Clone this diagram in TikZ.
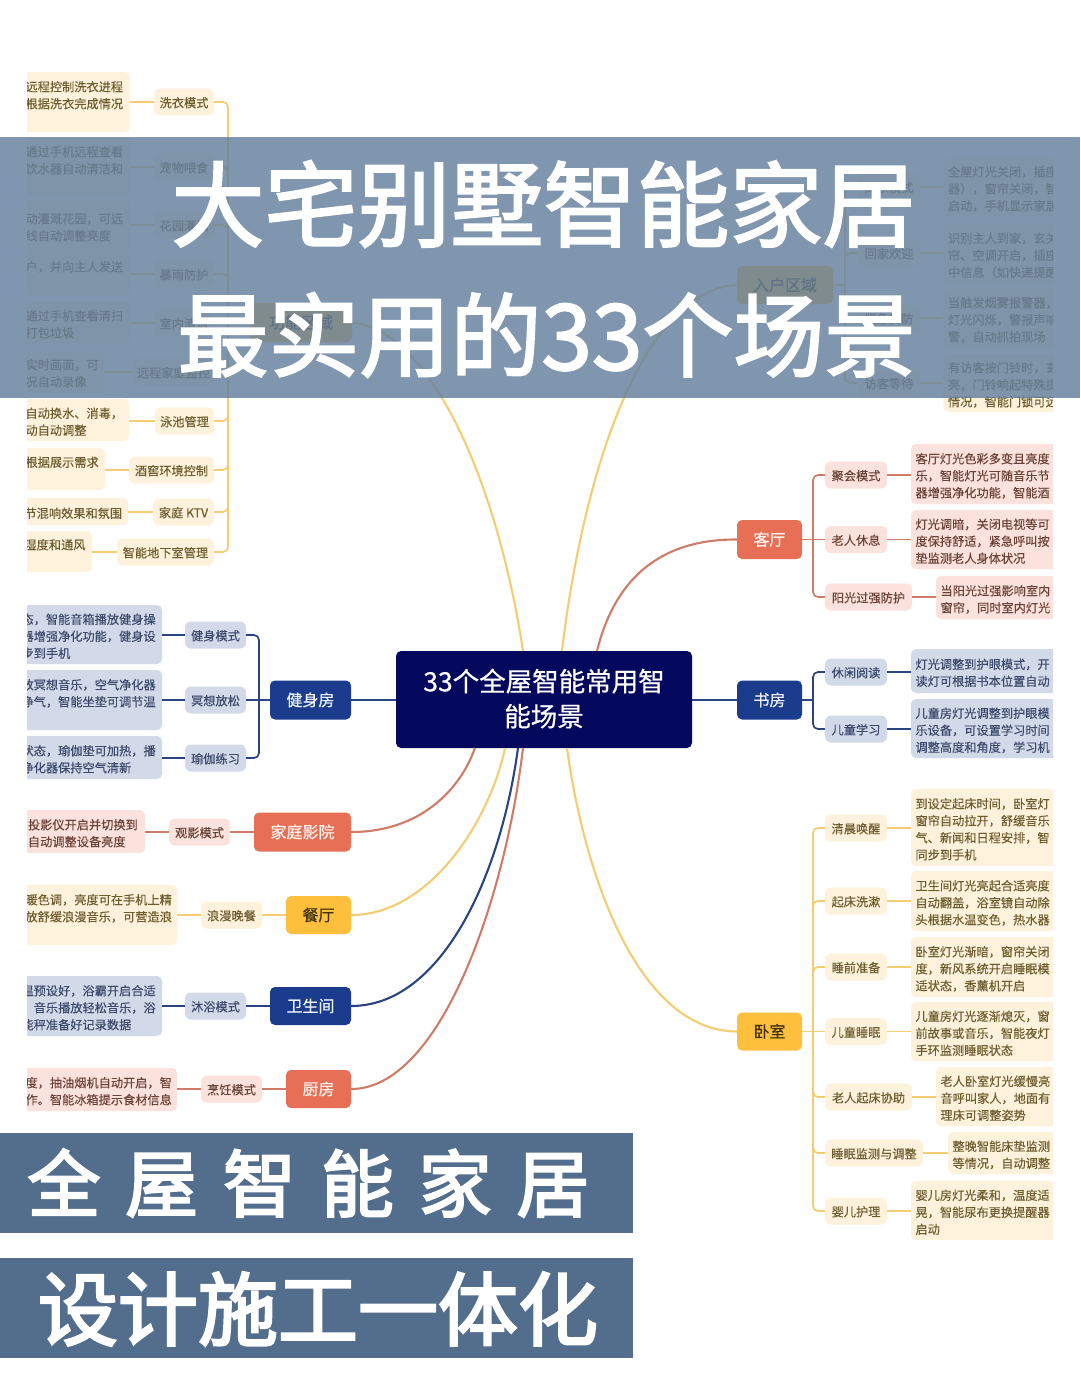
\documentclass[tikz,border=0pt]{standalone}
\usepackage{fontspec}
\setmainfont{Noto Sans CJK SC}[FakeBold=0.25]
\newfontfamily\mainnodefont{Noto Sans CJK SC}[FakeBold=0.6]
\newfontfamily\titlefont{Noto Sans CJK SC}[FakeBold=2.2]
\newfontfamily\bannerfont{Noto Sans CJK SC}[FakeBold=3]
\definecolor{yelfill}{HTML}{FEF2DC}\definecolor{yeltext}{HTML}{6E5C2E}\definecolor{yelline}{HTML}{F4CD72}\definecolor{yelmain}{HTML}{FEC03C}\definecolor{yelmt}{HTML}{40320F}
\definecolor{redfill}{HTML}{FBE2DC}\definecolor{redtext}{HTML}{6B4238}\definecolor{redline}{HTML}{CE7C68}\definecolor{redmain}{HTML}{E76F55}\definecolor{redmt}{HTML}{FFF3EE}
\definecolor{blufill}{HTML}{D2D9E9}\definecolor{blutext}{HTML}{3D4A6B}\definecolor{bluline}{HTML}{2A4480}\definecolor{blumain}{HTML}{1B3C8C}\definecolor{blumt}{HTML}{EEF2FA}
\definecolor{centerbg}{HTML}{05095E}\definecolor{bandcol}{RGB}{102,129,158}\definecolor{bannerbg}{HTML}{536D8D}
\tikzset{
 leaf/.style={fill=#1fill,text=#1text,rounded corners=5pt,inner xsep=4.5pt,inner ysep=0pt,align=left,
   font=\fontsize{12.2}{17}\selectfont,execute at begin node=\rule{0pt}{15pt},execute at end node={\rule[-2.2pt]{0pt}{2.2pt}}},
 lab/.style={fill=#1fill,text=#1text,rounded corners=6pt,inner sep=0pt,align=center,
   font=\fontsize{12.2}{17}\selectfont,execute at begin node={\rule[-3.2pt]{0pt}{17.2pt}}},
 mainbox/.style={fill=#1main,text=#1mt,rounded corners=5pt,inner sep=0pt,align=center,
   font=\mainnodefont\fontsize{16}{20}\selectfont,execute at begin node={\rule[-4pt]{0pt}{20pt}}},
 conn/.style={draw=#1line,line width=1.7pt},
 trunk/.style={draw=#1line,line width=1.7pt,rounded corners=5pt},
 curve/.style={draw=#1line,line width=2.1pt},
 centerbox/.style={fill=centerbg,text=white,rounded corners=5pt,minimum width=296pt,minimum height=97pt,inner sep=0pt,align=center,
  font=\mainnodefont\fontsize{26.5}{35}\selectfont,execute at begin node={\rule{0pt}{28pt}},execute at end node={\rule[-4pt]{0pt}{4pt}}},
}
% name fam left right top bottom text
\newcommand{\lfbox}[7]{%
  \pgfmathsetmacro\qw{#4-(#3)}\pgfmathsetmacro\qh{#6-(#5)}%
  \pgfmathsetmacro\qx{(#3+#4)/2}\pgfmathsetmacro\qy{(#5+#6)/2}\pgfmathsetmacro\qt{\qw-9}%
  \node[leaf=#2,minimum width=\qw pt,minimum height=\qh pt,text width=\qt pt] (#1l) at (\qx,\qy) {#7};}
% name fam left right y text
\newcommand{\lbbox}[6]{%
  \pgfmathsetmacro\qw{#4-(#3)}\pgfmathsetmacro\qx{(#3+#4)/2}%
  \node[lab=#2,minimum width=\qw pt,minimum height=27pt] (#1) at (\qx,#5) {#6};}
% name fam left right top bottom text
\newcommand{\mnbox}[7]{%
  \pgfmathsetmacro\qw{#4-(#3)}\pgfmathsetmacro\qh{#6-(#5)}%
  \pgfmathsetmacro\qx{(#3+#4)/2}\pgfmathsetmacro\qy{(#5+#6)/2}%
  \node[mainbox=#2,minimum width=\qw pt,minimum height=\qh pt] (#1) at (\qx,\qy) {#7};}
\newcommand{\lk}[2]{\draw[conn=#2] (#1.west) -- (#1.west -| #1l.east);}
\newcommand{\rk}[2]{\draw[conn=#2] (#1.east) -- (#1.east -| #1l.west);}
\begin{document}
\begin{tikzpicture}[x=1pt,y=-1pt]
\useasboundingbox (0,0) rectangle (1080,1391);
\fill[white] (0,0) rectangle (1080,1391);
\begin{scope}
\clip (27,0) rectangle (1053,1391);
% ---------- left yellow group
\lfbox{a1}{yel}{21}{130}{72}{132}{远程控制洗衣进程\\根据洗衣完成情况\\\mbox{}}
\lbbox{a1}{yel}{154}{214}{102}{洗衣模式}
\lfbox{a2}{yel}{21}{130}{138}{196}{通过手机远程查看\\饮水器自动清洁和\\\mbox{}}
\lbbox{a2}{yel}{154}{214}{167}{宠物喂食}
\lfbox{a3}{yel}{21}{130}{200}{251}{动灌溉花园，可远\\线自动调整亮度}
\lbbox{a3}{yel}{154}{214}{225}{花园灌溉}
\lfbox{a4}{yel}{21}{130}{252}{295}{户，并向主人发送\\\mbox{}}
\lbbox{a4}{yel}{154}{214}{274}{暴雨防护}
\lfbox{a5}{yel}{21}{130}{302}{343}{通过手机查看清扫\\打包垃圾}
\lbbox{a5}{yel}{154}{214}{323}{室内清洁}
\lfbox{a6}{yel}{21}{104}{351}{392}{实时画面，可\\况自动录像}
\lbbox{a6}{yel}{133}{214}{372}{远程家庭监控}
\lfbox{a7}{yel}{21}{129}{399}{441}{自动换水、消毒，\\动自动调整}
\lbbox{a7}{yel}{155}{214}{421}{泳池管理}
\lfbox{a8}{yel}{21}{105}{448}{490}{根据展示需求\\\mbox{}}
\lbbox{a8}{yel}{129}{214}{470}{酒窖环境控制}
\lfbox{a9}{yel}{20}{128}{498}{525}{节混响效果和氛围}
\lbbox{a9}{yel}{153}{214}{512}{家庭 KTV}
\lfbox{a10}{yel}{20}{92}{531}{572}{湿度和通风\\\mbox{}}
\lbbox{a10}{yel}{117}{214}{552}{智能地下室管理}
\mnbox{amain}{yel}{250}{352}{303}{342}{功能区域}
\coordinate (at) at (228,322.5);
\foreach \i in {1,...,10}{\lk{a\i}{yel}\draw[trunk=yel] (a\i.east) -| (at);}
\draw[conn=yel] (amain.west) -- (at);
% ---------- gym
\lfbox{b1}{blu}{17}{162}{605}{664}{态，智能音箱播放健身操\\器增强净化功能，健身设\\步到手机}
\lbbox{b1}{blu}{185}{246}{635}{健身模式}
\lfbox{b2}{blu}{17}{162}{670}{730}{放冥想音乐，空气净化器\\净气，智能坐垫可调节温\\\mbox{}}
\lbbox{b2}{blu}{185}{246}{700}{冥想放松}
\lfbox{b3}{blu}{17}{162}{736}{779}{状态，瑜伽垫可加热，播\\净化器保持空气清新}
\lbbox{b3}{blu}{185}{246}{758}{瑜伽练习}
\mnbox{bmain}{blu}{270}{351}{680.5}{719.5}{健身房}
\coordinate (bt) at (259,700);
\foreach \i in {1,2,3}{\lk{b\i}{blu}}
\draw[trunk=blu] (b1.east) -| (bt);
\draw[trunk=blu] (b3.east) -| (bt);
\draw[conn=blu] (bmain.west) -- (b2.east);
% ---------- cinema
\lfbox{c1}{red}{23.5}{145}{810}{853}{投影仪开启并切换到\\自动调整设备亮度}
\lbbox{c1}{red}{169}{230}{832}{观影模式}
\mnbox{cmain}{red}{254}{351}{812.5}{851.5}{家庭影院}
\lk{c1}{red}\draw[conn=red] (cmain.west) -- (c1.east);
% ---------- dining
\lfbox{d1}{yel}{21}{177}{885}{945}{暖色调，亮度可在手机上精\\放舒缓浪漫音乐，可营造浪\\\mbox{}}
\lbbox{d1}{yel}{201}{262}{915}{浪漫晚餐}
\mnbox{dmain}{yel}{286}{351}{896}{934}{餐厅}
\lk{d1}{yel}\draw[conn=yel] (dmain.west) -- (d1.east);
% ---------- bathroom
\lfbox{e1}{blu}{17}{162}{976}{1036}{温预设好，浴霸开启合适\\，音乐播放轻松音乐，浴\\能秤准备好记录数据}
\lbbox{e1}{blu}{185}{246}{1006}{沐浴模式}
\mnbox{emain}{blu}{270}{351}{987}{1025}{卫生间}
\lk{e1}{blu}\draw[conn=blu] (emain.west) -- (e1.east);
% ---------- kitchen
\lfbox{f1}{red}{21}{177}{1068}{1111}{度，抽油烟机自动开启，智\\作。智能冰箱提示食材信息}
\lbbox{f1}{red}{201}{262}{1089}{烹饪模式}
\mnbox{fmain}{red}{286}{351}{1070}{1108}{厨房}
\lk{f1}{red}\draw[conn=red] (fmain.west) -- (f1.east);
% ---------- entrance
\lfbox{g1}{yel}{943.5}{1060}{158}{216}{全屋灯光关闭，插座\\器），窗帘关闭，智\\启动，手机显示家居}
\lbbox{g1}{yel}{858}{920}{187}{离家模式}
\lfbox{g2}{yel}{943.5}{1060}{224}{283}{识别主人到家，玄关\\帘、空调开启，插座\\中信息（如快递提醒}
\lbbox{g2}{yel}{858}{920}{253}{回家欢迎}
\lfbox{g3}{yel}{943.5}{1060}{289}{347}{当触发烟雾报警器，\\灯光闪烁，警报声响\\警，自动抓拍现场}
\lbbox{g3}{yel}{858}{920}{318}{紧急安防}
\lfbox{g4}{yel}{943.5}{1060}{354}{412}{有访客按门铃时，玄\\亮，门铃响起特殊提\\情况，智能门锁可远}
\lbbox{g4}{yel}{858}{920}{383}{访客等待}
\mnbox{gmain}{yel}{737}{833}{266}{304}{入户区域}
\coordinate (gt) at (845,285);
\foreach \i in {1,2,3,4}{\rk{g\i}{yel}\draw[trunk=yel] (g\i.west) -| (gt);}
\draw[conn=yel] (gmain.east) -- (gt);
% ---------- living room
\lfbox{h1}{red}{911}{1060}{444}{504}{客厅灯光色彩多变且亮度\\乐，智能灯光可随音乐节\\器增强净化功能，智能酒}
\lbbox{h1}{red}{825}{887}{475}{聚会模式}
\lfbox{h2}{red}{911}{1060}{510}{569}{灯光调暗，关闭电视等可\\度保持舒适，紧急呼叫按\\垫监测老人身体状况}
\lbbox{h2}{red}{825}{887}{539.5}{老人休息}
\lfbox{h3}{red}{936}{1060}{576}{619}{当阳光过强影响室内\\窗帘，同时室内灯光}
\lbbox{h3}{red}{825}{912}{597}{阳光过强防护}
\mnbox{hmain}{red}{737}{802}{520}{559}{客厅}
\coordinate (ht) at (813,539.5);
\foreach \i in {1,2,3}{\rk{h\i}{red}}
\draw[trunk=red] (h1.west) -| (ht);
\draw[trunk=red] (h3.west) -| (ht);
\draw[conn=red] (hmain.east) -- (h2.west);
% ---------- study
\lfbox{i1}{blu}{911}{1060}{649}{693}{灯光调整到护眼模式，开\\读灯可根据书本位置自动}
\lbbox{i1}{blu}{825}{887}{672}{休闲阅读}
\lfbox{i2}{blu}{911}{1060}{699}{758}{儿童房灯光调整到护眼模\\乐设备，可设置学习时间\\调整高度和角度，学习机}
\lbbox{i2}{blu}{825}{887}{729}{儿童学习}
\mnbox{imain}{blu}{737}{802}{680.5}{719.5}{书房}
\coordinate (it) at (813,700);
\foreach \i in {1,2}{\rk{i\i}{blu}\draw[trunk=blu] (i\i.west) -| (it);}
\draw[conn=blu] (imain.east) -- (it);
% ---------- bedroom
\lfbox{j1}{yel}{911}{1060}{789}{866}{到设定起床时间，卧室灯\\窗帘自动拉开，舒缓音乐\\气、新闻和日程安排，智\\同步到手机}
\lbbox{j1}{yel}{825}{887}{828}{清晨唤醒}
\lfbox{j2}{yel}{911}{1060}{871}{931}{卫生间灯光亮起合适亮度\\自动翻盖，浴室镜自动除\\头根据水温变色，热水器}
\lbbox{j2}{yel}{825}{887}{901}{起床洗漱}
\lfbox{j3}{yel}{911}{1060}{937}{997}{卧室灯光渐暗，窗帘关闭\\度，新风系统开启睡眠模\\适状态，香薰机开启}
\lbbox{j3}{yel}{825}{887}{967}{睡前准备}
\lfbox{j4}{yel}{911}{1060}{1002}{1061}{儿童房灯光逐渐熄灭，窗\\前故事或音乐，智能夜灯\\手环监测睡眠状态}
\lbbox{j4}{yel}{825}{887}{1031.5}{儿童睡眠}
\lfbox{j5}{yel}{936}{1060}{1067}{1126}{老人卧室灯光缓慢亮\\音呼叫家人，地面有\\理床可调整姿势}
\lbbox{j5}{yel}{825}{912}{1097}{老人起床协助}
\lfbox{j6}{yel}{948}{1060}{1132}{1174}{整晚智能床垫监测\\等情况，自动调整}
\lbbox{j6}{yel}{825}{923}{1153}{睡眠监测与调整}
\lfbox{j7}{yel}{911}{1060}{1181}{1240}{婴儿房灯光柔和，温度适\\晃，智能尿布更换提醒器\\启动}
\lbbox{j7}{yel}{825}{887}{1211}{婴儿护理}
\mnbox{jmain}{yel}{737}{802}{1012.5}{1050.5}{卧室}
\coordinate (jt) at (813,1031.5);
\foreach \i in {1,...,7}{\rk{j\i}{yel}}
\foreach \i in {1,2,3,5,6,7}{\draw[trunk=yel] (j\i.west) -| (jt);}
\draw[conn=yel] (jmain.east) -- (j4.west);
% ---------- centre
\node[centerbox] (center) at (544,699.5) {33个全屋智能常用智\\能场景};
\coordinate (ca) at (523,651);
\coordinate (cb) at (562,651);
\coordinate (cc) at (597,651);
\coordinate (cd) at (475,748);
\coordinate (ce) at (505,748);
\coordinate (cf) at (518,748);
\coordinate (cg) at (523,748);
\coordinate (ch) at (567,748);
\draw[curve=yel] (amain.east) .. controls (430,330) and (497,480) .. (ca);
\draw[curve=yel] (gmain.west) .. controls (640,290) and (582,480) .. (cb);
\draw[curve=red] (hmain.west) .. controls (650,539) and (612,590) .. (cc);
\draw[conn=blu] (bmain.east) -- (center.west |- bmain.east);
\draw[conn=blu] (imain.west) -- (center.east |- imain.west);
\draw[curve=red] (cmain.east) .. controls (420,832) and (460,790) .. (cd);
\draw[curve=yel] (dmain.east) .. controls (430,915) and (490,820) .. (ce);
\draw[curve=blu] (emain.east) .. controls (440,1006) and (500,880) .. (cf);
\draw[curve=red] (fmain.east) .. controls (440,1089) and (505,900) .. (cg);
\draw[curve=yel] (jmain.west) .. controls (640,1031) and (585,880) .. (ch);
\end{scope}
% ---------- overlay band
\fill[bandcol,fill opacity=0.83] (0,137) rectangle (1080,398);
\node[text=white,inner sep=0pt,font=\titlefont\fontsize{93}{93}\selectfont] (title1) at (543.5,204) {大宅别墅智能家居};
\node[text=white,inner sep=0pt,font=\titlefont\fontsize{91}{91}\selectfont] (title2) at (546.5,335) {最实用的33个场景};
% ---------- banners
\fill[bannerbg] (0,1133) rectangle (633,1233);
\fill[bannerbg] (0,1258) rectangle (633,1358);
\node[text=white,inner sep=0pt,font=\bannerfont\fontsize{73}{73}\selectfont] (ban1) at (308.5,1183) {\spaceskip=24.8pt\relax 全 屋 智 能 家 居};
\node[text=white,inner sep=0pt,font=\bannerfont\fontsize{80}{80}\selectfont] (ban2) at (318,1309) {设计施工一体化};
\end{tikzpicture}
\end{document}
